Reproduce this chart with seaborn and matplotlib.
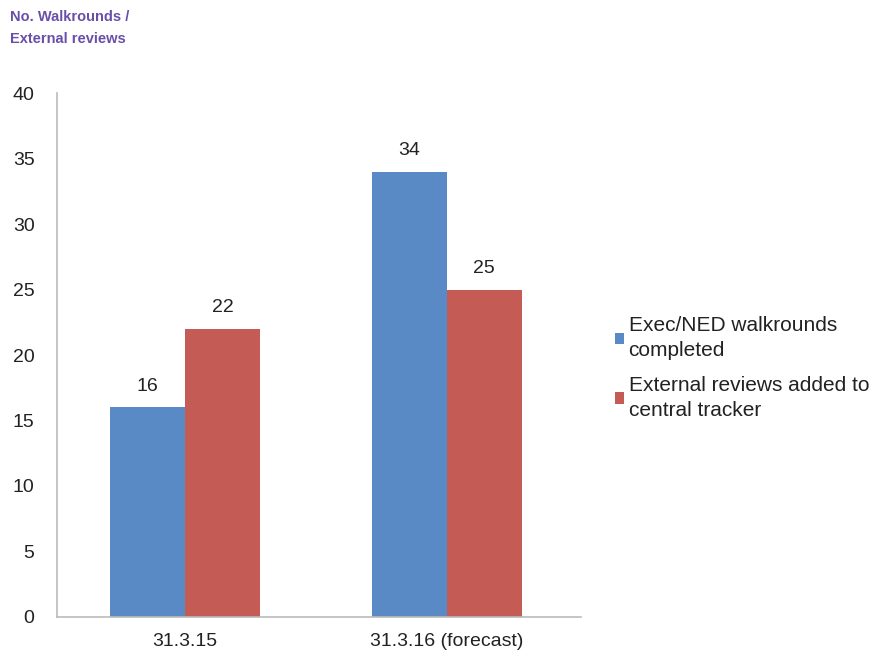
import matplotlib
matplotlib.use("Agg")
import matplotlib.pyplot as plt
import seaborn as sns
import pandas as pd

categories = ["31.3.15", "31.3.16 (forecast)"]
series_names = ["Exec/NED walkrounds\ncompleted", "External reviews added to\ncentral tracker"]
walkrounds = [16, 34]
external_reviews = [22, 25]
y_ticks = [0, 5, 10, 15, 20, 25, 30, 35, 40]

df = pd.DataFrame({
    "category": categories * 2,
    "series": [series_names[0]] * 2 + [series_names[1]] * 2,
    "value": walkrounds + external_reviews,
})

sns.set_theme(style="white")
plt.rcParams["font.family"] = ["Liberation Sans", "DejaVu Sans"]

fig = plt.figure(figsize=(8.73, 6.52), dpi=100)
ax = fig.add_axes([0.065, 0.054, 0.6, 0.803])

palette = ["#5A8AC6", "#C45B55"]
sns.barplot(data=df, x="category", y="value", hue="series", palette=palette,
            width=0.57, ax=ax, saturation=1, legend=True, linewidth=0)

for cont in ax.containers:
    ax.bar_label(cont, fmt="%d", padding=9, fontsize=14, color="#222222")

ax.set_ylim(0, 40)
ax.set_yticks(y_ticks)
ax.set_xlim(-0.49, 1.51)
ax.set_xlabel("")
ax.set_ylabel("")
ax.tick_params(axis="both", labelsize=14, colors="#222222", length=0)
ax.tick_params(axis="y", pad=16)
ax.tick_params(axis="x", pad=12)
for s in ["top", "right"]:
    ax.spines[s].set_visible(False)
for s in ["left", "bottom"]:
    ax.spines[s].set_color("#BBBBBB")
    ax.spines[s].set_linewidth(1.2)

leg = ax.legend(loc="center left", bbox_to_anchor=(1.03, 0.475), frameon=False,
                fontsize=15, handlelength=0.45, handleheight=0.45, handletextpad=0.2,
                labelspacing=0.75)
for t in leg.get_texts():
    t.set_color("#222222")
    t.set_linespacing(1.4)

fig.text(0.012, 0.985, "No. Walkrounds /\nExternal reviews", color="#6A4FA8",
         fontsize=10.5, fontweight="bold", va="top", ha="left", linespacing=1.75)

fig.savefig("out.png", dpi=100)
